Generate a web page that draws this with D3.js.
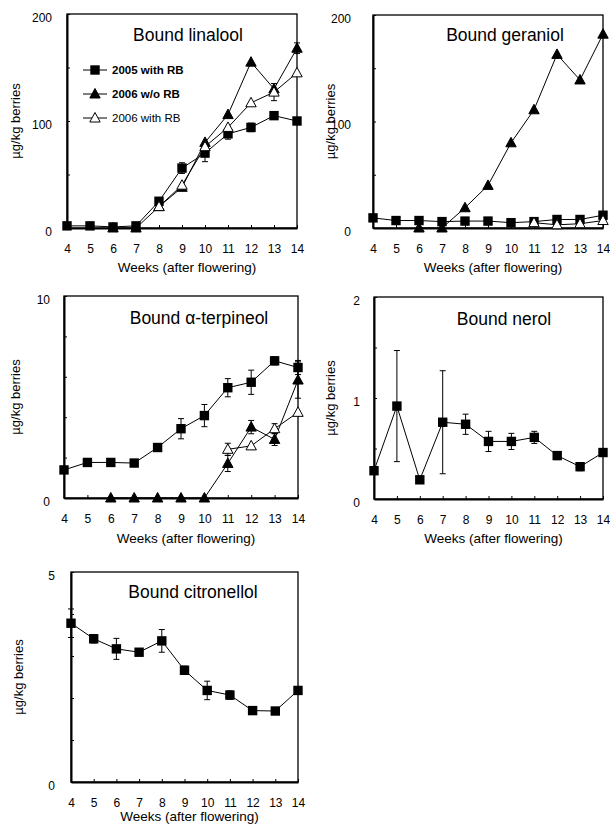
<!DOCTYPE html>
<html>
<head>
    <meta charset="utf-8">
    <title>bound terpenes</title>
    <script src="https://cdn.jsdelivr.net/npm/d3@7"></script>
    <style>
        body { margin: 0; background: #fff; }
        text { font-family: "Liberation Sans", Arial, sans-serif; fill: #000; }
    </style>
</head>
<body>
<script>
    // weeks after flowering
    var weeks = [4, 5, 6, 7, 8, 9, 10, 11, 12, 13, 14];

    // linalool
    var linalool05 = [2, 2, 1, 2, 25, 56, 70, 88, 94, 105, 100];
    var linalool05Err = [0, 0, 0, 0, 2, 5, 8, 5, 4, 3, 0];
    var linaloolWo06 = [null, null, 0, 0, 20, 38, 80, 106, 155, 130, 168];
    var linaloolWo06Err = [0, 0, 0, 0, 0, 0, 0, 0, 0, 0, 5];
    var linalool06 = [null, null, null, null, 20, 40, 76, 94, 117, 127, 145];
    var linalool06Err = [0, 0, 0, 0, 0, 0, 0, 0, 0, 8, 0];

    // geraniol
    var geraniol05 = [9.5, 7, 7, 6, 6.5, 6.5, 5, 6, 8, 8, 12];
    var geraniolWo06 = [null, null, 0, 0, 19, 40, 80, 111, 163, 139, 182];
    var geraniol06 = [null, null, null, null, null, null, null, 5, 3, 4, 7];

    // alpha-terpineol
    var terpineol05 = [1.39, 1.76, 1.76, 1.73, 2.5, 3.43, 4.08, 5.46, 5.73, 6.79, 6.46];
    var terpineol05Err = [0, 0.15, 0, 0, 0.15, 0.5, 0.55, 0.45, 0.6, 0.2, 0.35];
    var terpineolWo06 = [null, null, 0, 0, 0, 0, 0, 1.71, 3.51, 2.9, 5.84];
    var terpineolWo06Err = [0, 0, 0, 0, 0, 0, 0, 0.4, 0.33, 0.3, 0.9];
    var terpineol06 = [null, null, null, null, null, null, null, 2.41, 2.58, 3.43, 4.24];
    var terpineol06Err = [0, 0, 0, 0, 0, 0, 0, 0.3, 0, 0.25, 0];

    // nerol
    var nerol05 = [0.28, 0.92, 0.19, 0.76, 0.74, 0.57, 0.57, 0.61, 0.43, 0.32, 0.46];
    var nerol05Err = [0.03, 0.55, 0.03, 0.51, 0.1, 0.1, 0.08, 0.06, 0.04, 0.04, 0];

    // citronellol
    var citronellol05 = [3.78, 3.41, 3.17, 3.09, 3.36, 2.66, 2.18, 2.07, 1.7, 1.69, 2.18];
    var citronellol05Err = [0.34, 0.1, 0.25, 0, 0.27, 0.1, 0.22, 0.1, 0, 0, 0];

    var legendNames = ['2005 with RB', '2006 w/o RB', '2006 with RB'];
    var xTitle = 'Weeks (after flowering)';
    var yTitle = 'µg/kg berries';

    var width = 610, height = 826;
    var svg = d3.select('body').append('svg').attr('width', width).attr('height', height);

    var panels = [
        {title: 'Bound linalool', box: [67, 14, 297, 228], ymax: 200, minor: 50, major: 100,
            titleX: 188, titleY: 41, ylabX: 15, yPad: 15, xtOff: 44,
            series: [[linalool05, linalool05Err, 'square'], [linaloolWo06, linaloolWo06Err, 'tri'], [linalool06, linalool06Err, 'open']]},
        {title: 'Bound geraniol', box: [373, 15, 603, 228], ymax: 200, minor: 50, major: 100,
            titleX: 505, titleY: 41, ylabX: 330, yPad: 22, xtOff: 44,
            series: [[geraniol05, null, 'square'], [geraniolWo06, null, 'tri'], [geraniol06, null, 'open']]},
        {title: 'Bound α-terpineol', box: [64, 296, 298, 498], ymax: 10, minor: 2, major: 10,
            titleX: 199, titleY: 324, ylabX: 15, yPad: 14, xtOff: 45,
            series: [[terpineol05, terpineol05Err, 'square'], [terpineolWo06, terpineolWo06Err, 'tri'], [terpineol06, terpineol06Err, 'open']]},
        {title: 'Bound nerol', box: [374, 297, 603, 499], ymax: 2, minor: 0.5, major: 1,
            titleX: 504, titleY: 325, ylabX: 330, yPad: 14, xtOff: 44,
            series: [[nerol05, nerol05Err, 'square']]},
        {title: 'Bound citronellol', box: [71, 572, 298, 782], ymax: 5, minor: 1, major: 5,
            titleX: 193, titleY: 598, ylabX: 18, yPad: 16, xtOff: 39,
            series: [[citronellol05, citronellol05Err, 'square']]}
    ];

    var triPath = 'M0,-5.5L5.2,4L-5.2,4Z';

    function marker(g, type, cx, cy) {
        if (type === 'square') {
            g.append('rect').attr('x', cx - 4.7).attr('y', cy - 4.7)
                .attr('width', 9.4).attr('height', 9.4).attr('fill', '#000');
        } else {
            g.append('path').attr('d', triPath)
                .attr('transform', 'translate(' + cx + ',' + cy + ')')
                .attr('fill', type === 'open' ? '#fff' : '#000')
                .attr('stroke', '#000').attr('stroke-width', 1);
        }
    }

    panels.forEach(function (p) {
        var g = svg.append('g');
        var x = d3.scaleLinear().domain([4, 14]).range([p.box[0], p.box[2]]);
        var y = d3.scaleLinear().domain([0, p.ymax]).range([p.box[3], p.box[1]]);

        // frame
        g.append('rect').attr('x', p.box[0]).attr('y', p.box[1])
            .attr('width', p.box[2] - p.box[0]).attr('height', p.box[3] - p.box[1])
            .attr('fill', 'none').attr('stroke', '#000').attr('stroke-width', 1.3);

        // axes, ticks pointing inward
        var yTicks = d3.range(0, p.ymax + p.minor / 2, p.minor);
        var yAxis = d3.axisLeft(y).tickValues(yTicks).tickSizeInner(-3).tickSizeOuter(0)
            .tickPadding(p.yPad)
            .tickFormat(function (d) {
                return Math.abs(d / p.major - Math.round(d / p.major)) < 1e-6 ? d : '';
            });
        var ya = g.append('g').attr('transform', 'translate(' + p.box[0] + ',0)').call(yAxis);
        ya.selectAll('text').attr('font-size', 12).attr('dy', '0.62em')
            .style('font-family', '"Liberation Sans", Arial, sans-serif');

        var xAxis = d3.axisBottom(x).tickValues(weeks).tickSizeInner(-3).tickSizeOuter(0)
            .tickPadding(16).tickFormat(d3.format('d'));
        var xa = g.append('g').attr('transform', 'translate(0,' + p.box[3] + ')').call(xAxis);
        xa.selectAll('text').attr('font-size', 12)
            .style('font-family', '"Liberation Sans", Arial, sans-serif');

        [ya, xa].forEach(function (a) {
            a.select('.domain').attr('stroke-width', 2);
            a.selectAll('.tick line').attr('stroke-width', 1);
        });

        // titles
        g.append('text').attr('x', p.titleX).attr('y', p.titleY)
            .attr('text-anchor', 'middle').attr('font-size', 17.5).text(p.title);
        g.append('text').attr('x', (p.box[0] + p.box[2]) / 2 + 5).attr('y', p.box[3] + p.xtOff)
            .attr('text-anchor', 'middle').attr('font-size', 13.5).text(xTitle);
        g.append('text')
            .attr('transform', 'translate(' + (p.ylabX + 5) + ',' + ((p.box[1] + p.box[3]) / 2) + ') rotate(-90)')
            .attr('text-anchor', 'middle').attr('font-size', 13).text(yTitle);

        // series lines, error bars, markers
        p.series.forEach(function (s) {
            var vals = s[0], errs = s[1];
            var pts = weeks.map(function (w, i) { return {w: w, v: vals[i], e: errs ? errs[i] : 0}; })
                .filter(function (d) { return d.v !== null; });
            var line = d3.line().x(function (d) { return x(d.w); }).y(function (d) { return y(d.v); });
            g.append('path').datum(pts).attr('d', line)
                .attr('fill', 'none').attr('stroke', '#000').attr('stroke-width', 1);
            pts.forEach(function (d) {
                if (d.e > 0) {
                    var cx = x(d.w);
                    g.append('line').attr('x1', cx).attr('x2', cx)
                        .attr('y1', y(d.v - d.e)).attr('y2', y(d.v + d.e)).attr('stroke', '#000');
                    [d.v - d.e, d.v + d.e].forEach(function (v) {
                        g.append('line').attr('x1', cx - 3).attr('x2', cx + 3)
                            .attr('y1', y(v)).attr('y2', y(v)).attr('stroke', '#000');
                    });
                }
            });
            pts.forEach(function (d) { marker(g, s[2], x(d.w), y(d.v)); });
        });
    });

    // legend in first panel
    var legendTypes = ['square', 'tri', 'open'];
    var lg = svg.append('g');
    legendNames.forEach(function (name, i) {
        var cy = 70 + i * 24;
        lg.append('line').attr('x1', 83).attr('x2', 107).attr('y1', cy).attr('y2', cy)
            .attr('stroke', '#000');
        marker(lg, legendTypes[i], 95, cy);
        lg.append('text').attr('x', 112).attr('y', cy + 4).attr('font-size', 11.5)
            .attr('font-weight', i < 2 ? 'bold' : 'normal').text(name);
    });
</script>
</body>
</html>
